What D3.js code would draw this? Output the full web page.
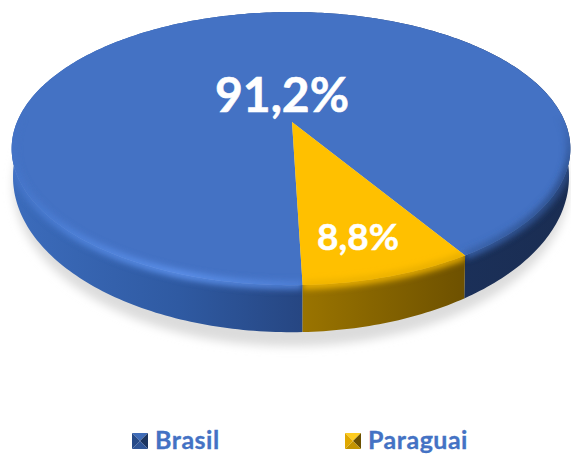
<!DOCTYPE html>
<html>
<head>
<meta charset="utf-8">
<script src="https://d3js.org/d3.v7.min.js"></script>
<style>
html, body { margin: 0; padding: 0; background: #fff; }
svg { display: block; }
text { font-family: Lato, "Open Sans", sans-serif; font-weight: 700; }
</style>
</head>
<body>
<script>
"use strict";

var categories = ["Brasil", "Paraguai"];
var values = [91.2, 8.8];
var valueLabels = ["91,2%", "8,8%"];

var topColors = ["#4472c4", "#ffc000"];
var wallStops = [
    [[0, "#3c6cbc"], [0.3, "#2f5aa2"], [0.52, "#264682"], [0.8, "#1b3059"], [1, "#1a2d52"]],
    [[0, "#b88b00"], [0.52, "#9a7400"], [0.8, "#6f5200"], [1, "#6f5200"]]
];
var bevelStops = [
    [[0, "#4474c8"], [0.12, "#4f82da"], [0.3, "#5c90ea"], [0.52, "#4e7fd6"], [0.8, "#3a63ab"], [1, "#2c4d88"]],
    [[0, "#ffc000"], [1, "#e0a800"]]
];

var width = 571, height = 454;
var centerX = 291, centerY = 122;
var tilt = 0.1947;
var halfX = 274, halfY = 131.4;
var wallDrop = 25;

var svg = d3.select("body").append("svg").attr("width", width).attr("height", height);
var defs = svg.append("defs");

defs.append("filter").attr("id", "shadowBlur")
    .attr("x", "-10%").attr("y", "-10%").attr("width", "120%").attr("height", "120%")
    .append("feGaussianBlur").attr("stdDeviation", 5);
defs.append("filter").attr("id", "bevelBlur")
    .attr("filterUnits", "userSpaceOnUse")
    .attr("x", -20).attr("y", -20).attr("width", width + 40).attr("height", height + 40)
    .append("feGaussianBlur").attr("stdDeviation", 3);

// bevel only shows on the front of the disc
var fade = defs.append("linearGradient").attr("id", "bevelFade")
    .attr("gradientUnits", "userSpaceOnUse")
    .attr("x1", 0).attr("x2", 0).attr("y1", 115).attr("y2", 175);
fade.append("stop").attr("offset", 0).attr("stop-color", "#000");
fade.append("stop").attr("offset", 1).attr("stop-color", "#fff");
defs.append("mask").attr("id", "bevelMask")
    .attr("maskUnits", "userSpaceOnUse")
    .attr("x", 0).attr("y", 0).attr("width", width).attr("height", height)
    .append("rect").attr("width", width).attr("height", height).attr("fill", "url(#bevelFade)");

// unit disc to screen, a simple perspective so the centre sits above the middle
var xScale = d3.scaleLinear().domain([-1, 1]).range([centerX - halfX, centerX + halfX]);
var yScale = d3.scaleLinear().domain([-1, 1]).range([centerY + halfY, centerY - halfY]);

function project(angle, depth) {
    // small correction, the front of the disc reads a bit squeezed in the picture
    var a = angle - 0.0265 * Math.sin(2 * (angle - 163 * Math.PI / 180));
    var px = Math.sin(a), py = Math.cos(a);
    var w = 1 + tilt * py;
    var flat = py / w * (1 + 0.135 * depth);
    return [xScale(px / w * (1 - 0.005 * depth)), yScale(flat) + depth * wallDrop];
}

var startAngle = 178.84 * Math.PI / 180;
var pie = d3.pie().sort(null).startAngle(startAngle).endAngle(startAngle + 2 * Math.PI);
var slices = pie(values);
var line = d3.line();

function rim(slice, depth) {
    var n = Math.ceil((slice.endAngle - slice.startAngle) * 60);
    return d3.range(n + 1).map(function (i) {
        return project(slice.startAngle + (slice.endAngle - slice.startAngle) * i / n, depth);
    });
}

function wedgePath(slice) {
    return line([[xScale(0) + 1, yScale(0)]].concat(rim(slice, 0))) + "Z";
}

function wallPath(slice) {
    return line(rim(slice, 0).concat(rim(slice, 1).reverse())) + "Z";
}

function addGradient(id, stops) {
    var g = defs.append("linearGradient").attr("id", id)
        .attr("gradientUnits", "userSpaceOnUse")
        .attr("x1", centerX - 280).attr("x2", centerX + 280).attr("y1", 0).attr("y2", 0);
    stops.forEach(function (s) {
        g.append("stop").attr("offset", s[0]).attr("stop-color", s[1]);
    });
}

// soft shadow under the disc
var whole = d3.pie().startAngle(0).endAngle(2 * Math.PI)([1])[0];
svg.append("path")
    .attr("d", line(rim(whole, 1.3)) + "Z")
    .attr("fill", "#dcdcdc")
    .attr("filter", "url(#shadowBlur)");

slices.forEach(function (slice, i) {
    addGradient("wall" + i, wallStops[i]);
    addGradient("bevel" + i, bevelStops[i]);

    var clip = defs.append("clipPath").attr("id", "sliceClip" + i);
    clip.append("path").attr("d", wedgePath(slice));
    clip.append("path").attr("d", wallPath(slice));

    var group = svg.append("g").attr("class", "slice");
    group.append("path").attr("d", wallPath(slice)).attr("fill", "url(#wall" + i + ")");
    group.append("path").attr("d", wedgePath(slice)).attr("fill", topColors[i]);
    group.append("g").attr("clip-path", "url(#sliceClip" + i + ")")
        .append("g").attr("mask", "url(#bevelMask)")
        .append("path")
        .attr("d", line(rim(slice, 0)))
        .attr("fill", "none")
        .attr("stroke", "url(#bevel" + i + ")")
        .attr("stroke-width", 8)
        .attr("filter", "url(#bevelBlur)");
});

svg.append("text").attr("x", 282).attr("y", 112).attr("text-anchor", "middle")
    .attr("font-size", 48).attr("fill", "#fff").attr("stroke", "#fff").attr("stroke-width", 0.6)
    .text(valueLabels[0]);
svg.append("text").attr("x", 358).attr("y", 250).attr("text-anchor", "middle")
    .attr("font-size", 37).attr("fill", "#fff").attr("stroke", "#fff").attr("stroke-width", 0.5)
    .text(valueLabels[1]);

// legend with the little pyramid markers
var legendX = [132, 345];
var markerShades = [
    ["#3f6cb8", "#1c3560", "#2f5597", "#264a88"],
    ["#ffcc20", "#6b5000", "#c49400", "#e0a800"]
];
var markerSize = 16;
categories.forEach(function (name, i) {
    var g = svg.append("g").attr("transform", "translate(" + legendX[i] + ",433)");
    var s = markerSize, m = s / 2;
    var faces = [
        [[0, 0], [s, 0], [m, m]],
        [[s, 0], [s, s], [m, m]],
        [[s, s], [0, s], [m, m]],
        [[0, s], [0, 0], [m, m]]
    ];
    faces.forEach(function (f, j) {
        g.append("path").attr("d", line(f) + "Z").attr("fill", markerShades[i][j]);
    });
    svg.append("text").attr("x", legendX[i] + 23).attr("y", 448.5)
        .attr("font-size", 25).attr("letter-spacing", 0.5)
        .attr("fill", "#4472c4").attr("stroke", "#4472c4").attr("stroke-width", 0.3)
        .text(name);
});
</script>
</body>
</html>
